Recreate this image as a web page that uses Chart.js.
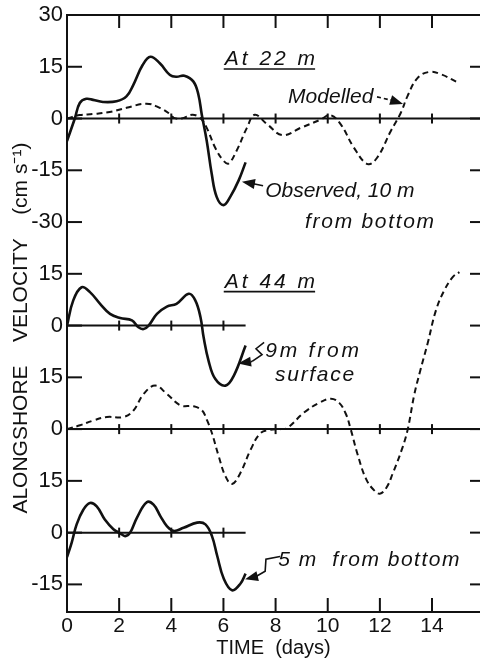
<!DOCTYPE html>
<html>
<head>
<meta charset="utf-8">
<script src="https://cdn.jsdelivr.net/npm/chart.js@4.4.1/dist/chart.umd.min.js"></script>
<style>
  html, body { margin: 0; padding: 0; background: #fff; }
  #wrap { width: 480px; height: 660px; }
</style>
</head>
<body>
<div id="wrap"><canvas id="velocityChart"></canvas></div>
<script>
// At 22 m: observed 10 m from bottom (cm/s)
const obs22Days = [0, 0.3, 0.49, 0.74, 1.0, 1.38, 1.9, 2.28, 2.54, 2.9, 3.2, 3.56, 3.95, 4.2, 4.5, 4.85, 5.04, 5.17, 5.36, 5.55, 5.74, 6.0, 6.26, 6.58, 6.85];
const obs22Vel = [-6.5, 0, 4.5, 5.7, 5.4, 4.8, 5.0, 6.4, 9.7, 15.5, 17.9, 16, 12.6, 12.1, 12.4, 10.7, 6.9, 1.1, -6.5, -16, -22.7, -25.1, -22.7, -18, -12.7];

// At 22 m: modelled
const mod22Days = [0, 0.49, 1.0, 1.64, 2.28, 3.05, 3.56, 3.95, 4.1, 4.4, 4.8, 5.1, 5.36, 5.68, 6.0, 6.2, 6.5, 6.9, 7.2, 7.68, 8.26, 8.96, 9.73, 10.1, 10.5, 11.0, 11.53, 11.9, 12.42, 12.8, 13.06, 13.45, 13.9, 14.35, 15.0];
const mod22Vel = [0, 1, 1.3, 1.9, 3.1, 4.3, 3.1, 1.3, 0.2, 0, 1.1, 0.2, -2.7, -8.4, -12.2, -13, -9.4, -2.7, 1.1, -1.7, -4.8, -2.7, -0.3, 1, -1.7, -8.4, -13.2, -11.3, -3.6, 1.6, 6.5, 11.8, 13.5, 12.8, 10.4];

// At 44 m: observed 9 m from surface
const obs44Days = [0, 0.24, 0.56, 0.88, 1.27, 1.65, 2.04, 2.49, 2.74, 2.94, 3.13, 3.45, 3.83, 4.2, 4.67, 4.92, 5.12, 5.24, 5.43, 5.69, 6.08, 6.4, 6.85];
const obs44Vel = [0, 7.3, 11.1, 9.7, 6.3, 3.4, 2.2, 1.5, -0.5, -1, 0, 3.4, 5.5, 6.3, 9.2, 7.3, 2.4, -3.4, -10.2, -15.5, -17.4, -14.5, -5.8];

// At 44 m: modelled
const mod44Days = [0, 0.5, 1.01, 1.53, 2.17, 2.55, 2.94, 3.38, 3.83, 4.35, 4.86, 5.18, 5.37, 5.56, 5.82, 6.08, 6.33, 6.65, 7.04, 7.42, 7.8, 8.2, 8.45, 9.09, 9.67, 10.12, 10.44, 10.7, 10.88, 11.14, 11.46, 11.75, 12.0, 12.25, 12.49, 12.87, 13.07, 13.32, 13.55, 13.83, 14.15, 14.47, 14.8, 15.05];
const mod44Vel = [0, 1.1, 2.5, 3.5, 3.5, 5.4, 10.2, 12.6, 10.2, 6.9, 6.6, 5.4, 2.6, -1.2, -7.9, -13.7, -15.9, -12.7, -6, -1.2, -0.2, 0, 0.3, 4.8, 7.6, 8.8, 7.6, 4.3, 0, -7.2, -14.3, -17.5, -18.7, -17, -12.9, -5.3, 0, 10, 17, 24.8, 34.4, 40.2, 44.1, 45.5];

// At 44 m: observed 5 m from bottom
const obs5Days = [0, 0.18, 0.37, 0.63, 0.88, 1.14, 1.45, 1.78, 2.04, 2.23, 2.42, 2.68, 3.06, 3.32, 3.58, 3.83, 4.09, 4.47, 4.99, 5.31, 5.56, 5.76, 6.01, 6.33, 6.65, 6.85];
const obs5Vel = [-7.1, -2.9, 2.4, 6.7, 8.6, 7.6, 3.8, 1, -0.2, -1, 0, 4.3, 8.8, 8.1, 4.8, 1.9, 0.5, 1.4, 2.9, 2.4, -1, -6.7, -13.3, -16.7, -14.8, -11.9];

// Axis ticks (the y axis is one long strip holding four stacked panels)
const xTicks = [0, 2, 4, 6, 8, 10, 12, 14];
const yTickValues = [30, 15, 0, -15, -30, -45, -60, -75, -90, -105, -120, -135];
const yTickLabels = ['30', '15', '0', '-15', '-30', '15', '0', '15', '0', '15', '0', '-15'];

// Layout of the stacked panels
const yTop = 30, yBottom = -143, xMax = 15.84;
const panelZero = { y: 0, y44s: -60, y44m: -90, y5: -120 };
const zeroLines = [
    { level: 0, to: xMax },
    { level: -60, to: 6.85 },
    { level: -90, to: xMax },
    { level: -120, to: 6.85 }
];

const ink = '#111';
const fontFamily = "'Liberation Sans', Arial, sans-serif";
const tickFont = { family: fontFamily, size: 22 };
const noteFont = "italic 21px " + fontFamily;

// Annotations in (day, strip value) units
const notes = [
    { text: 'At 22 m', x: 6.05, y: 15.5, underline: true, spacing: 3 },
    { text: 'Modelled', x: 8.48, y: 4.5, spacing: 0 },
    { text: 'Observed, 10 m', x: 7.6, y: -22.7, spacing: 0 },
    { text: 'from bottom', x: 9.13, y: -31.6, spacing: 1.7 },
    { text: 'At 44 m', x: 6.05, y: -49, underline: true, spacing: 3 },
    { text: '9m from', x: 7.6, y: -69, spacing: 2.8 },
    { text: 'surface', x: 7.98, y: -76.2, spacing: 1.7 },
    { text: '5 m  from bottom', x: 8.1, y: -129.8, spacing: 1.5 }
];
const arrows = [
    { path: [[11.89, 6.27], [12.39, 5.4]], dashed: true, tip: [12.89, 4.24] },
    { path: [[7.52, -19.5], [7.15, -18.9]], tip: [6.71, -18.3] },
    { path: [[7.56, -64.9], [7.25, -66.7], [7.48, -68.4], [7.1, -70.4]], tip: [6.56, -71] },
    { path: [[8.17, -126.9], [7.63, -127.7], [7.6, -131.2], [7.25, -132.7]], tip: [6.83, -133.5] }
];

function toPoints(days, vals) {
    return days.map((d, i) => ({ x: d, y: vals[i] }));
}

function hiddenAxis(zero) {
    return { type: 'linear', display: false, min: yBottom - zero, max: yTop - zero };
}

function line(ctx, x1, y1, x2, y2) {
    ctx.beginPath();
    ctx.moveTo(x1, y1);
    ctx.lineTo(x2, y2);
    ctx.stroke();
}

// Frame, inner tick marks, zero lines and the hand-lettered notes
const framePlugin = {
    id: 'frame',
    beforeDatasetsDraw(chart) {
        const { ctx, chartArea: a, scales: { x, y } } = chart;
        ctx.save();
        ctx.strokeStyle = ink;
        ctx.lineWidth = 2;
        line(ctx, a.left, a.top, a.right, a.top);
        xTicks.forEach(d => {
            if (d === 0) return;
            const px = x.getPixelForValue(d);
            line(ctx, px, a.top, px, a.top + 13);
            line(ctx, px, a.bottom, px, a.bottom - 14);
        });
        yTickValues.forEach(v => {
            if (v === yTop) return;
            const py = y.getPixelForValue(v);
            line(ctx, a.left, py, a.left + 15, py);
            line(ctx, a.right - 10, py, a.right, py);
        });
        zeroLines.forEach(z => {
            const py = y.getPixelForValue(z.level);
            line(ctx, a.left, py, x.getPixelForValue(z.to), py);
            xTicks.forEach(d => {
                if (d === 0 || d > z.to) return;
                const px = x.getPixelForValue(d);
                line(ctx, px, py - 5, px, py + 5);
            });
        });
        ctx.restore();
    },
    afterDatasetsDraw(chart) {
        const { ctx, scales: { x, y } } = chart;
        const P = (d, v) => [x.getPixelForValue(d), y.getPixelForValue(v)];
        ctx.save();
        ctx.fillStyle = ink;
        ctx.strokeStyle = ink;
        ctx.font = noteFont;
        ctx.textBaseline = 'alphabetic';
        notes.forEach(n => {
            const [px, py] = P(n.x, n.y);
            ctx.letterSpacing = n.spacing + 'px';
            ctx.fillText(n.text, px, py);
            if (n.underline) {
                const w = ctx.measureText(n.text).width;
                ctx.lineWidth = 1.6;
                line(ctx, px - 1, py + 4, px + w - n.spacing, py + 4);
            }
        });
        ctx.letterSpacing = '0px';
        arrows.forEach(a => {
            const pts = a.path.map(p => P(p[0], p[1]));
            const tip = P(a.tip[0], a.tip[1]);
            ctx.lineWidth = 1.6;
            ctx.setLineDash(a.dashed ? [4, 3] : []);
            ctx.beginPath();
            ctx.moveTo(pts[0][0], pts[0][1]);
            for (let i = 1; i < pts.length; i++) ctx.lineTo(pts[i][0], pts[i][1]);
            ctx.stroke();
            ctx.setLineDash([]);
            const last = pts[pts.length - 1];
            const ang = Math.atan2(tip[1] - last[1], tip[0] - last[0]);
            const len = 13, half = 5;
            const bx = tip[0] - len * Math.cos(ang), by = tip[1] - len * Math.sin(ang);
            ctx.beginPath();
            ctx.moveTo(tip[0], tip[1]);
            ctx.lineTo(bx + half * Math.sin(ang), by - half * Math.cos(ang));
            ctx.lineTo(bx - half * Math.sin(ang), by + half * Math.cos(ang));
            ctx.closePath();
            ctx.fill();
            line(ctx, last[0], last[1], bx, by);
        });
        ctx.restore();
    }
};

const solid = { borderColor: ink, borderWidth: 2.6, pointRadius: 0, tension: 0.4, fill: false };
const dashed = { borderColor: ink, borderWidth: 2, borderDash: [6, 4], pointRadius: 0, tension: 0.4, fill: false };

new Chart(document.getElementById('velocityChart'), {
    type: 'line',
    data: {
        datasets: [
            Object.assign({ label: 'Observed, 10 m from bottom', data: toPoints(obs22Days, obs22Vel), yAxisID: 'y' }, solid),
            Object.assign({ label: 'Modelled, 22 m', data: toPoints(mod22Days, mod22Vel), yAxisID: 'y' }, dashed),
            Object.assign({ label: '9 m from surface', data: toPoints(obs44Days, obs44Vel), yAxisID: 'y44s' }, solid),
            Object.assign({ label: 'Modelled, 44 m', data: toPoints(mod44Days, mod44Vel), yAxisID: 'y44m' }, dashed),
            Object.assign({ label: '5 m from bottom', data: toPoints(obs5Days, obs5Vel), yAxisID: 'y5' }, solid)
        ]
    },
    options: {
        responsive: true,
        maintainAspectRatio: false,
        animation: false,
        layout: { padding: { top: 15, right: 0, bottom: 0, left: 0 } },
        plugins: { legend: { display: false }, tooltip: { enabled: false } },
        scales: {
            x: {
                type: 'linear',
                min: 0,
                max: xMax,
                afterBuildTicks: s => { s.ticks = xTicks.map(v => ({ value: v })); },
                afterFit: s => { s.height = 48; },
                grid: { display: false },
                border: { display: true, color: ink, width: 2 },
                ticks: { color: ink, font: { family: fontFamily, size: 21 }, padding: -6, autoSkip: false, maxRotation: 0 },
                title: { display: true, text: 'TIME  (days)', color: ink, font: { family: fontFamily, size: 20 }, padding: { top: -2, bottom: 0 } }
            },
            y: {
                type: 'linear',
                position: 'left',
                min: yBottom,
                max: yTop,
                afterBuildTicks: s => { s.ticks = yTickValues.map(v => ({ value: v })); },
                afterFit: s => { s.width = 67; },
                grid: { display: false },
                border: { display: true, color: ink, width: 2 },
                ticks: { color: ink, font: tickFont, padding: -4, autoSkip: false, callback: (v, i) => yTickLabels[i] },
                title: { display: true, text: 'ALONGSHORE    VELOCITY    (cm s\u207B\u00B9)     ', color: ink, font: { family: fontFamily, size: 21 }, padding: { top: 9, bottom: 0 } }
            },
            y44s: hiddenAxis(panelZero.y44s),
            y44m: hiddenAxis(panelZero.y44m),
            y5: hiddenAxis(panelZero.y5)
        }
    },
    plugins: [framePlugin]
});
</script>
</body>
</html>
